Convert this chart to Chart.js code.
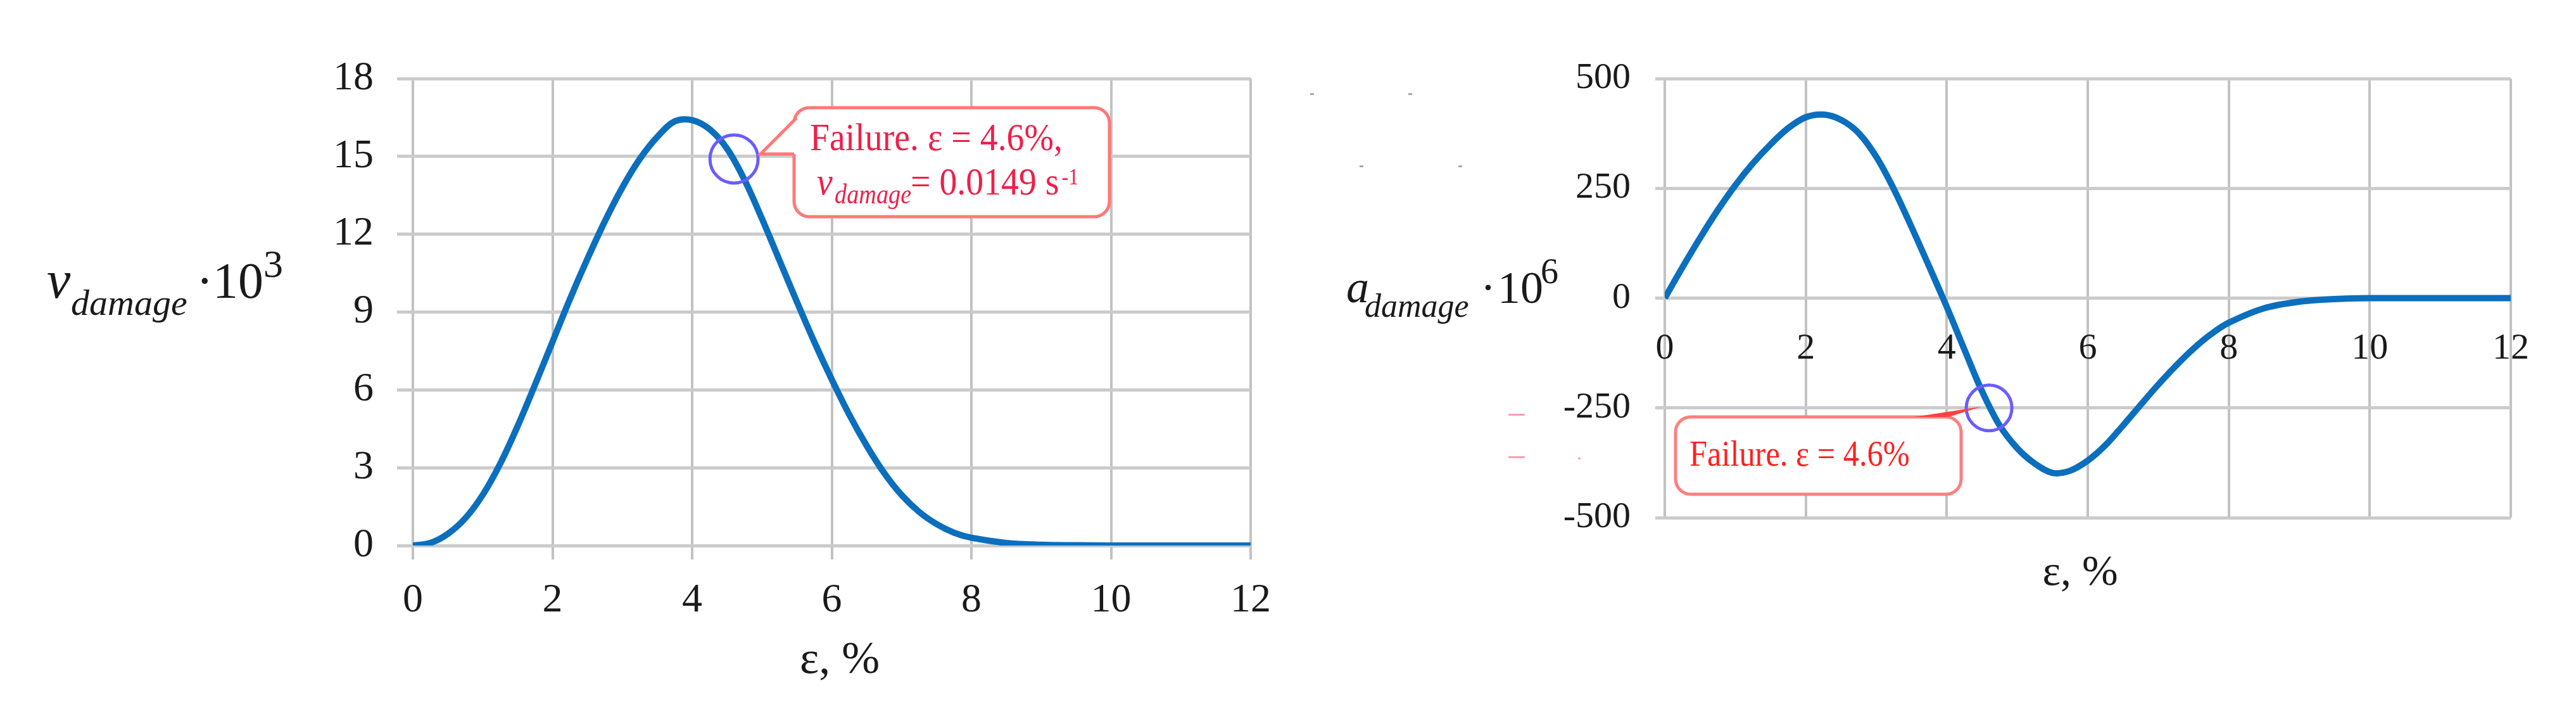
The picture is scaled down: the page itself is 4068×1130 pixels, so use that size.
<!DOCTYPE html>
<html>
<head>
<meta charset="utf-8">
<script src="https://cdn.jsdelivr.net/npm/chart.js@4.4.1/dist/chart.umd.min.js"></script>
<style>
  html, body { margin: 0; padding: 0; background: #fff; }
  body { width: 4068px; height: 1130px; position: relative; overflow: hidden; }
  canvas { position: absolute; top: 0; }
  #chartV { left: 0; }
  #chartA { left: 2034px; }
</style>
</head>
<body>
<canvas id="chartV" width="2034" height="1130"></canvas>
<canvas id="chartA" width="2034" height="1130"></canvas>
<script>
// ε, % (x) and damage rate v·10^3 (left chart)
const epsV    = [0,0.25,0.5,0.75,1,1.25,1.5,1.75,2,2.25,2.5,2.75,3,3.25,3.5,3.75,4,4.25,4.5,4.75,5,5.25,5.5,5.75,6,6.25,6.5,6.75,7,7.25,7.5,7.75,8,8.5,9,9.5,10,11,12];
const vDamage = [0,0.1,0.45,1.05,1.95,3.15,4.6,6.2,7.85,9.5,11.05,12.5,13.8,14.9,15.75,16.35,16.4,16.05,15.3,14.1,12.6,11.0,9.4,7.85,6.4,5.05,3.85,2.8,1.95,1.3,0.83,0.5,0.3,0.1,0.03,0.01,0,0,0];

// ε, % (x) and damage acceleration a·10^6 (right chart)
const epsA    = [0,0.25,0.5,0.75,1,1.25,1.5,1.75,2,2.25,2.5,2.75,3,3.25,3.5,3.75,4,4.25,4.5,4.75,5,5.25,5.5,5.75,6,6.25,6.5,6.75,7,7.25,7.5,7.75,8,8.5,9,9.5,10,11,12];
const aDamage = [0,70,137,200,257,307,350,387,412,418,406,376,322,248,162,72,-20,-117,-212,-290,-342,-377,-398,-393,-370,-335,-290,-243,-197,-154,-115,-82,-56,-23,-8,-2,0,0,0];

// tick labels
const xTicks = [0,2,4,6,8,10,12];
const vTicks = [0,3,6,9,12,15,18];
const aTicks = [-500,-250,0,250,500];

// failure point
const failureEps = 4.6;
const failureV   = 14.9;
const failureA   = -250;

const SERIF = "'Liberation Serif', 'Times New Roman', serif";
const LINE  = '#0b6fbe';
const TXT   = '#1a1a1a';

// ── text helper (sx = horizontal squeeze) ──
function putText(ctx, str, x, y, size, o = {}) {
  ctx.save();
  ctx.font = (o.italic ? 'italic ' : '') + size + 'px ' + SERIF;
  ctx.fillStyle = o.color || TXT;
  ctx.textBaseline = 'alphabetic';
  ctx.textAlign = 'left';
  const sx = o.sx || 1;
  const w = ctx.measureText(str).width * sx;
  const x0 = o.center ? x - w / 2 : x;
  ctx.translate(x0, y);
  ctx.scale(sx, 1);
  ctx.fillText(str, 0, 0);
  ctx.restore();
  return x0 + w;
}

function failCircle(chart, xv, yv, r) {
  const ctx = chart.ctx;
  const px = chart.scales.x.getPixelForValue(xv);
  const py = chart.scales.y.getPixelForValue(yv);
  ctx.save();
  ctx.strokeStyle = '#6a5cff';
  ctx.lineWidth = 5;
  ctx.beginPath();
  ctx.arc(px, py, r, 0, Math.PI * 2);
  ctx.stroke();
  ctx.restore();
  return {px, py};
}

// ── left chart extras ──
const vExtras = {
  id: 'vExtras',
  afterDatasetsDraw(chart) {
    const ctx = chart.ctx;
    // y title
    putText(ctx, 'v', 74, 470, 84, {italic: true});
    putText(ctx, 'damage', 112, 497, 58, {italic: true});
    putText(ctx, '·', 310, 470, 80);
    putText(ctx, '10', 336, 470, 80);
    putText(ctx, '3', 416, 437, 62);
    // x title
    putText(ctx, 'ε, %', 1326, 1062, 72, {center: true});

    // callout
    const c = failCircle(chart, failureEps, failureV, 38);
    const bx = 1254, by = 170, bw = 498, bh = 172;
    ctx.save();
    ctx.lineWidth = 5;
    ctx.strokeStyle = '#ff7878';
    ctx.fillStyle = '#fff';
    ctx.beginPath();
    ctx.roundRect(bx, by, bw, bh, 24);
    ctx.fill();
    ctx.stroke();
    const tipX = c.px + 42, tipY = 243;
    ctx.beginPath();
    ctx.moveTo(bx + 6, 186);
    ctx.lineTo(tipX, tipY);
    ctx.lineTo(bx + 6, tipY);
    ctx.closePath();
    ctx.fill();
    ctx.beginPath();
    ctx.moveTo(bx + 4, 186);
    ctx.lineTo(tipX, tipY);
    ctx.lineTo(bx, tipY);
    ctx.stroke();
    ctx.restore();

    const red = '#f01e4a';
    putText(ctx, 'Failure. ε = 4.6%,', 1279, 237, 62, {color: red, sx: 0.9});
    putText(ctx, 'v', 1290, 307, 62, {color: red, italic: true, sx: 0.9});
    putText(ctx, 'damage', 1318, 321, 44, {color: red, italic: true, sx: 0.87});
    const e = putText(ctx, '= 0.0149 s', 1438, 307, 62, {color: red, sx: 0.9});
    putText(ctx, '-1', e + 4, 291, 36, {color: red, sx: 0.9});
  }
};

// ── right chart extras ──
const aExtras = {
  id: 'aExtras',
  afterDatasetsDraw(chart) {
    const ctx = chart.ctx;
    // y title
    putText(ctx, 'a', 92, 477, 72, {italic: true});
    putText(ctx, 'damage', 121, 500, 52, {italic: true});
    putText(ctx, '·', 304, 478, 72);
    putText(ctx, '10', 331, 478, 72);
    putText(ctx, '6', 399, 447, 56);
    // x title
    putText(ctx, 'ε, %', 1251, 923, 68, {center: true});

    // stray marks from the source scan
    ctx.save();
    ctx.fillStyle = '#a8a8a8';
    [[35,147],[190,147],[113,261],[269,261]].forEach(p => ctx.fillRect(p[0], p[1], 6, 3));
    ctx.fillStyle = '#ff9fb0';
    [[348,653],[348,720]].forEach(p => ctx.fillRect(p[0], p[1], 26, 3));
    ctx.fillRect(458, 722, 4, 3);
    ctx.restore();

    // callout
    const c = failCircle(chart, failureEps, failureA, 36);
    const bx = 612, by = 658, bw = 451, bh = 122;
    ctx.save();
    ctx.lineWidth = 5;
    ctx.strokeStyle = '#ff7f7f';
    ctx.fillStyle = '#fff';
    ctx.beginPath();
    ctx.roundRect(bx, by, bw, bh, 24);
    ctx.fill();
    ctx.stroke();
    ctx.fillStyle = '#ff4040';
    ctx.beginPath();
    ctx.moveTo(989, by);
    ctx.lineTo(c.px - 12, c.py - 2);
    ctx.lineTo(1043, by);
    ctx.closePath();
    ctx.fill();
    ctx.restore();

    putText(ctx, 'Failure. ε = 4.6%', 634, 735, 56, {color: '#ff1f1f', sx: 0.9});
  }
};

function tickFont(size) { return {family: SERIF, size: size}; }

// ── left: v_damage ──
new Chart(document.getElementById('chartV'), {
  type: 'line',
  data: {datasets: [{
    data: epsV.map((e, i) => ({x: e, y: vDamage[i]})),
    borderColor: LINE, borderWidth: 10, pointRadius: 0,
    tension: 0.35, fill: false
  }]},
  options: {
    responsive: false, animation: false, devicePixelRatio: 1,
    layout: {padding: {top: 124, right: 55, left: 0, bottom: 0}},
    plugins: {legend: {display: false}, tooltip: {enabled: false}},
    scales: {
      x: {
        type: 'linear', min: xTicks[0], max: xTicks[xTicks.length - 1],
        ticks: {stepSize: xTicks[1] - xTicks[0], padding: 27, color: TXT, font: tickFont(64)},
        grid: {color: '#c2c2c2', lineWidth: 4, tickLength: 22},
        border: {display: false},
        afterFit: s => { s.height = 1130 - 861; }
      },
      y: {
        min: vTicks[0], max: vTicks[vTicks.length - 1],
        ticks: {stepSize: vTicks[1] - vTicks[0], padding: 37, color: TXT, font: tickFont(64)},
        grid: {color: '#cbcbcb', lineWidth: 5, tickLength: 25},
        border: {display: false},
        afterFit: s => { s.width = 652; }
      }
    }
  },
  plugins: [vExtras]
});

// ── right: a_damage ──
new Chart(document.getElementById('chartA'), {
  type: 'line',
  data: {datasets: [{
    data: epsA.map((e, i) => ({x: e, y: aDamage[i]})),
    borderColor: LINE, borderWidth: 10, pointRadius: 0,
    tension: 0.35, fill: false
  }]},
  options: {
    responsive: false, animation: false, devicePixelRatio: 1,
    layout: {padding: {top: 124, right: 103, left: 0, bottom: 313}},
    plugins: {legend: {display: false}, tooltip: {enabled: false}},
    scales: {
      x: {
        type: 'linear', position: {y: 0},
        min: xTicks[0], max: xTicks[xTicks.length - 1],
        ticks: {stepSize: xTicks[1] - xTicks[0], padding: 45, color: TXT, font: tickFont(58)},
        grid: {color: '#c2c2c2', lineWidth: 4, drawTicks: false},
        border: {display: false}
      },
      y: {
        min: aTicks[0], max: aTicks[aTicks.length - 1],
        ticks: {stepSize: aTicks[1] - aTicks[0], padding: 39, color: TXT, font: tickFont(58)},
        grid: {color: '#cbcbcb', lineWidth: 5, tickLength: 15},
        border: {display: false},
        afterFit: s => { s.width = 595; }
      }
    }
  },
  plugins: [aExtras]
});
</script>
</body>
</html>
